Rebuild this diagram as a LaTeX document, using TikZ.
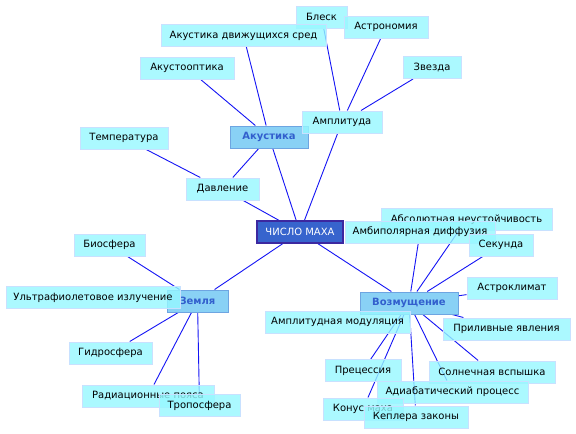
\documentclass[tikz,border=0pt]{standalone}
\usepackage{fontspec}
\setmainfont{DejaVu Sans}
\pgfdeclarelayer{background}
\pgfsetlayers{background,main}
\definecolor{edgeblue}{RGB}{20,20,245}
\definecolor{leaffill}{RGB}{150,248,255}
\definecolor{leafdraw}{RGB}{200,225,255}
\definecolor{hubfill}{RGB}{125,205,245}
\definecolor{hubdraw}{RGB}{110,165,225}
\definecolor{hubtext}{RGB}{50,95,205}
\definecolor{rootfill}{RGB}{55,100,205}
\definecolor{rootdraw}{RGB}{60,40,160}
\tikzset{
  box/.style={rectangle, minimum height=22pt, inner sep=0pt, font=\fontsize{10}{12}\selectfont},
  leaf/.style={box, fill=leaffill, fill opacity=0.8, text opacity=1, draw=leafdraw, line width=1pt},
  hub/.style={box, fill=hubfill, fill opacity=0.9, text opacity=1, draw=hubdraw, line width=1pt, text=hubtext, font=\fontsize{10}{12}\selectfont\bfseries},
  rootbox/.style={box, fill=rootfill, draw=rootdraw, line width=1.5pt, text=white},
  link/.style={draw=edgeblue, line width=0.9pt}
}
\begin{document}
\begin{tikzpicture}[x=1pt,y=-1pt]
\useasboundingbox (0,0) rectangle (576,434);
% hubs and root
\node[rootbox, minimum width=86pt] (root) at (300,232) {ЧИСЛО МАХА};
\node[hub, minimum width=78pt] (ak) at (269,137) {Акустика};
\node[hub, minimum width=98pt] (voz) at (409,303) {Возмущение};
\node[hub, minimum width=61pt] (zem) at (197.5,301) {Земля};
% leaves
\node[leaf, minimum width=80pt] (amp) at (342,122) {Амплитуда};
\node[leaf, minimum width=51pt] (blesk) at (321.5,17) {Блеск};
\node[leaf, minimum width=84pt] (astro) at (386,27) {Астрономия};
\node[leaf, minimum width=165pt] (akds) at (243.5,35.5) {Акустика движущихся сред};
\node[leaf, minimum width=94pt] (akopt) at (187,68) {Акустооптика};
\node[leaf, minimum width=58pt] (zv) at (432,67.5) {Звезда};
\node[leaf, minimum width=88pt] (temp) at (124,138) {Температура};
\node[leaf, minimum width=73pt] (dav) at (222.5,189) {Давление};
\node[leaf, minimum width=171pt] (abs) at (466.5,219.5) {Абсолютная неустойчивость};
\node[leaf, minimum width=150pt] (ambi) at (420,232) {Амбиполярная диффузия};
\node[leaf, minimum width=64pt] (sek) at (501,245) {Секунда};
\node[leaf, minimum width=90pt] (astrokl) at (512,288) {Астроклимат};
\node[leaf, minimum width=145pt] (ampmod) at (337.5,322) {Амплитудная модуляция};
\node[leaf, minimum width=127pt] (pril) at (506.5,329) {Приливные явления};
\node[leaf, minimum width=71pt] (bio) at (109.5,245) {Биосфера};
\node[leaf, minimum width=174pt] (uf) at (93,297.5) {Ультрафиолетовое излучение};
\node[leaf, minimum width=83pt] (gid) at (110.5,353) {Гидросфера};
\node[leaf, minimum width=132pt] (rad) at (148,396) {Радиационные пояса};
\node[leaf, minimum width=81pt] (trop) at (199.5,405.5) {Тропосфера};
\node[leaf, minimum width=76pt] (prec) at (363,370.5) {Прецессия};
\node[leaf, minimum width=126pt] (soln) at (492,372) {Солнечная вспышка};
\node[leaf, minimum width=151pt] (adiab) at (452.5,392) {Адиабатический процесс};
\node[leaf, minimum width=80pt] (konus) at (363,409) {Конус маха};
\node[leaf, minimum width=104pt] (kepl) at (416,417) {Кеплера законы};
\begin{pgfonlayer}{background}
\fill[white] (0,0) rectangle (576,434);
\draw[link] (ak) -- (akds);
\draw[link] (ak) -- (akopt);
\draw[link] (ak) -- (dav);
\draw[link] (ak) -- (root);
\draw[link] (amp) -- (blesk);
\draw[link] (amp) -- (astro);
\draw[link] (amp) -- (zv);
\draw[link] (amp) -- (root);
\draw[link] (dav) -- (temp);
\draw[link] (dav) -- (root);
\draw[link] (root) -- (zem);
\draw[link] (root) -- (voz);
\draw[link] (zem) -- (bio);
\draw[link] (zem) -- (gid);
\draw[link] (zem) -- (rad);
\draw[link] (zem) -- (trop);
\draw[link] (voz) -- (ambi);
\draw[link] (voz) -- (abs);
\draw[link] (voz) -- (sek);
\draw[link] (voz) -- (astrokl);
\draw[link] (voz) -- (pril);
\draw[link] (voz) -- (prec);
\draw[link] (voz) -- (konus);
\draw[link] (voz) -- (kepl);
\draw[link] (voz) -- (adiab);
\draw[link] (voz) -- (soln);
\end{pgfonlayer}
\end{tikzpicture}
\end{document}
